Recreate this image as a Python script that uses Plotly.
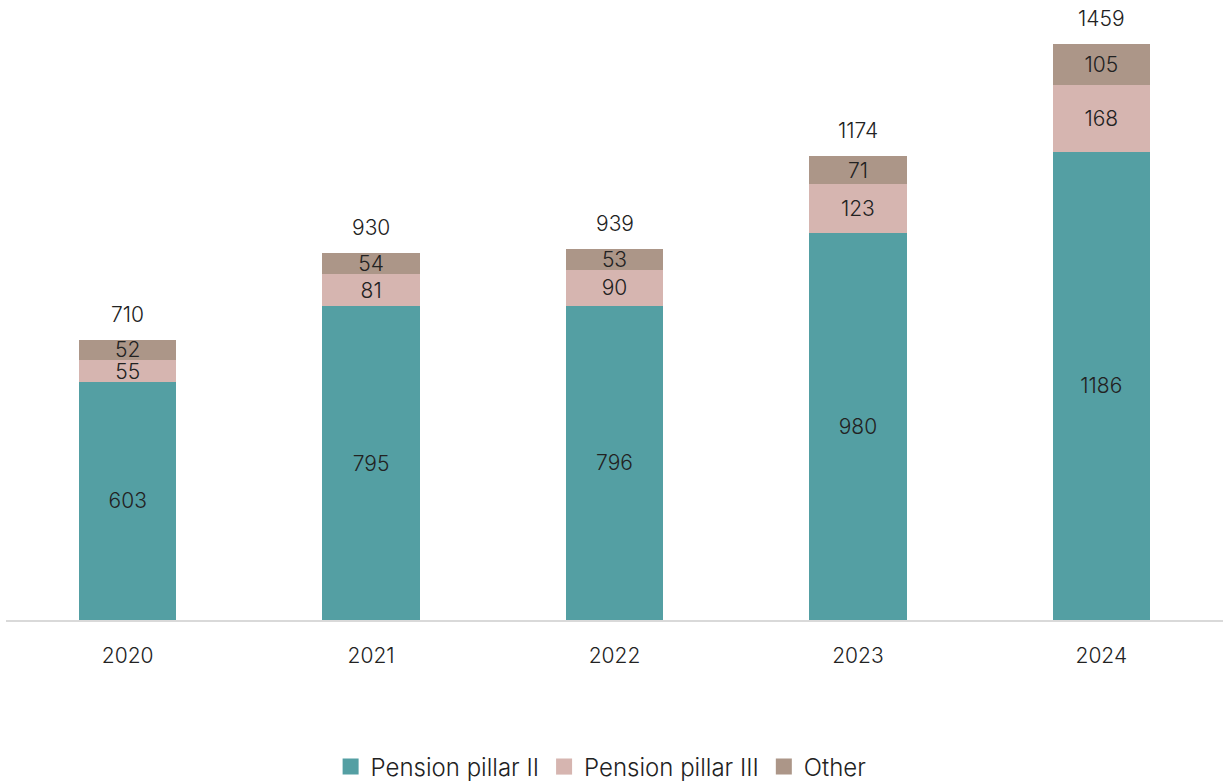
import plotly.graph_objects as go

years = ["2020", "2021", "2022", "2023", "2024"]
pillar_ii = [603, 795, 796, 980, 1186]
pillar_iii = [55, 81, 90, 123, 168]
other = [52, 54, 53, 71, 105]
totals = [710, 930, 939, 1174, 1459]

series = [
    ("Pension pillar II", pillar_ii, "#549FA3"),
    ("Pension pillar III", pillar_iii, "#D6B5B0"),
    ("Other", other, "#AC9688"),
]

FONT = dict(family="Inter", color="#222222", size=21, weight=300)
LEGEND_FONT = dict(family="Inter", color="#222222", size=24, weight=300)

H = 781
PLOT_BOTTOM = 620  # pixel row of the category axis

fig = go.Figure()
for name, vals, color in series:
    fig.add_trace(go.Bar(
        x=years, y=vals, name=name, showlegend=False,
        marker=dict(color=color, line=dict(width=0)),
        text=[str(v) for v in vals], textposition="inside", insidetextanchor="middle",
        textangle=0, textfont=FONT, width=0.4, constraintext="none",
    ))
    # legend entry with a larger square swatch
    fig.add_trace(go.Scatter(
        x=[None], y=[None], mode="markers", name=name,
        marker=dict(symbol="square", size=16, color=color),
    ))

for i, tot in enumerate(totals):
    fig.add_annotation(x=i, y=tot, xref="x", yref="y", text=str(tot), showarrow=False,
                       yanchor="bottom", yshift=11, font=FONT)

fig.update_layout(
    barmode="stack",
    width=1224, height=H,
    margin=dict(l=6, r=1, t=0, b=0, autoexpand=False),
    plot_bgcolor="white", paper_bgcolor="white",
    uniformtext=dict(mode=False),
    legend=dict(orientation="h", x=0.489, xanchor="center",
                y=(H - 767) / H, yanchor="middle",
                font=LEGEND_FONT, itemsizing="trace", traceorder="normal",
                itemwidth=30, bgcolor="rgba(0,0,0,0)"),
    xaxis=dict(type="category", showline=True, linecolor="#D9D9D9", linewidth=2, ticks="",
               tickfont=FONT, ticklabelstandoff=16, range=[-0.5, 4.5], automargin=False),
    yaxis=dict(range=[0, 1570], visible=False, showgrid=False,
               domain=[(H - PLOT_BOTTOM) / H, 1]),
)

fig.write_html("out.html")
